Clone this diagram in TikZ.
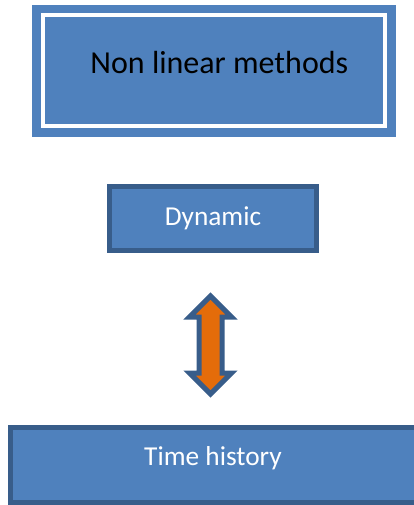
\documentclass[tikz,border=0pt]{standalone}
\usepackage{fontspec}
\setmainfont{Carlito}
\usetikzlibrary{calc}
\definecolor{boxblue}{HTML}{4F81BD}
\definecolor{edgeblue}{HTML}{385D8A}
\definecolor{arrorange}{HTML}{E46C0A}

\begin{document}
\begin{tikzpicture}[x=0.75pt,y=-0.75pt,
  bluebox/.style={fill=boxblue,draw=edgeblue,line width=3.75pt,inner sep=0pt},
  boxtext/.style={text=white,font=\fontsize{20.5}{24}\selectfont}]
  \useasboundingbox (0,0) rectangle (413,505);
  % ===================== Non linear methods (arriba) =====================
  \node[fill=boxblue,inner sep=0pt,minimum width=273pt,minimum height=99pt,
    label={[font=\fontsize{24}{28}\selectfont,xshift=4pt,yshift=6pt]center:Non linear methods}] (nlm) at (214,71) {};
  \draw[white,line width=3pt] ($(nlm.north west)+(11,10.5)$) rectangle ($(nlm.south east)+(-11.5,-11.5)$);
  % ===================== Dynamic =====================
  \node[bluebox,boxtext,minimum width=155.25pt,minimum height=48pt] (dyn) at (213,218.5) {Dynamic};
  % ===================== Time history (abajo) =====================
  \node[bluebox,minimum width=329.25pt,minimum height=56pt,
    label={[boxtext,xshift=-12.75pt,yshift=5.25pt]center:Time history}] (tim) at (230,464.75) {};
  % ---------- flecha doble ----------
  \coordinate (updown) at (210.5,345);
  \draw[draw=edgeblue,fill=arrorange,line width=3.75pt] ($(updown)+(0,-49)$) -- ++(21,21) -- ++(-9.5,0)
    -- ++(0,56) -- ++(9.5,0) -- ++(-21,21) -- ++(-21,-21) -- ++(9.5,0) -- ++(0,-56) -- ++(-9.5,0) -- cycle;
\end{tikzpicture}
\end{document}
